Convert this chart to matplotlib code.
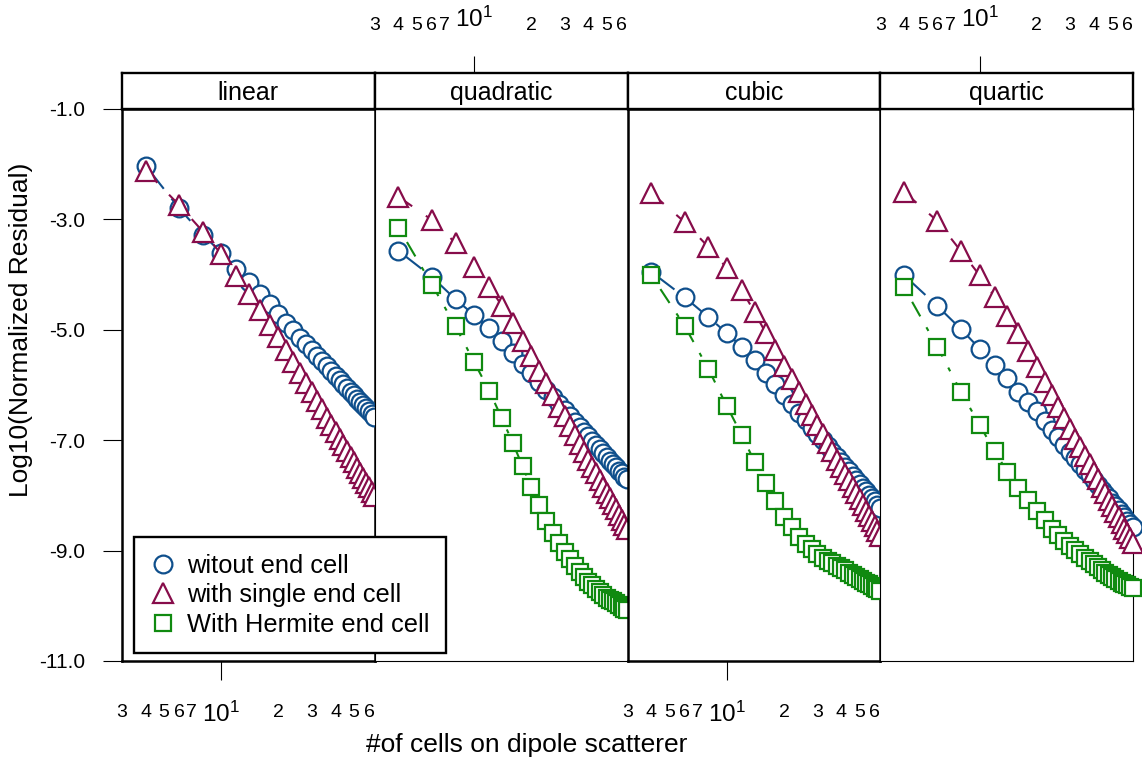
import matplotlib
matplotlib.use('Agg')
import matplotlib.pyplot as plt
from matplotlib.lines import Line2D

plt.rcParams['font.family'] = ['Liberation Sans', 'DejaVu Sans']

# ---------------- data ----------------
cells = [4, 6, 8, 10, 12, 14, 16, 18, 20, 22, 24, 26, 28, 30, 32, 34, 36, 38, 40,
         42, 44, 46, 48, 50, 52, 54, 56, 58, 60, 62, 64]

panels = ['linear', 'quadratic', 'cubic', 'quartic']
series_names = ['witout end cell', 'with single end cell', 'With Hermite end cell']

linear_without = [-2.03, -2.80, -3.28, -3.60, -3.89, -4.14, -4.36, -4.54, -4.71,
                  -4.87, -5.01, -5.14, -5.25, -5.37, -5.47, -5.57, -5.66, -5.75, -5.83,
                  -5.91, -5.98, -6.05, -6.12, -6.19, -6.25, -6.31, -6.37, -6.42, -6.48,
                  -6.53, -6.58]
linear_single = [-2.12, -2.74, -3.22, -3.63, -4.03, -4.36, -4.65, -4.91, -5.13,
                 -5.37, -5.58, -5.78, -5.96, -6.13, -6.29, -6.44, -6.59, -6.72, -6.85,
                 -6.97, -7.08, -7.19, -7.30, -7.40, -7.50, -7.59, -7.68, -7.77, -7.85,
                 -7.93, -8.01]

quadratic_without = [-3.57, -4.04, -4.45, -4.73, -4.97, -5.20, -5.42, -5.62, -5.79,
                     -5.95, -6.09, -6.22, -6.34, -6.46, -6.56, -6.67, -6.76, -6.85, -6.93,
                     -7.01, -7.09, -7.16, -7.23, -7.30, -7.37, -7.43, -7.49, -7.55, -7.60,
                     -7.66, -7.71]
quadratic_single = [-2.59, -3.01, -3.43, -3.87, -4.22, -4.56, -4.88, -5.20, -5.48,
                    -5.74, -5.97, -6.19, -6.39, -6.57, -6.75, -6.91, -7.06, -7.21, -7.35,
                    -7.48, -7.60, -7.72, -7.84, -7.95, -8.05, -8.16, -8.25, -8.35, -8.44,
                    -8.53, -8.61]
quadratic_hermite = [-3.15, -4.18, -4.94, -5.58, -6.10, -6.60, -7.05, -7.47, -7.85,
                     -8.18, -8.46, -8.68, -8.87, -9.03, -9.16, -9.27, -9.38, -9.48, -9.56,
                     -9.63, -9.69, -9.75, -9.80, -9.85, -9.89, -9.92, -9.95, -9.99, -10.02,
                     -10.05, -10.08]

cubic_without = [-3.95, -4.41, -4.77, -5.06, -5.31, -5.55, -5.79, -5.99, -6.18,
                 -6.35, -6.50, -6.64, -6.77, -6.89, -7.00, -7.11, -7.21, -7.31, -7.40,
                 -7.48, -7.56, -7.64, -7.72, -7.79, -7.86, -7.92, -7.99, -8.05, -8.11,
                 -8.17, -8.22]
cubic_single = [-2.52, -3.05, -3.50, -3.88, -4.28, -4.68, -5.05, -5.37, -5.65,
                -5.90, -6.13, -6.34, -6.54, -6.72, -6.89, -7.05, -7.20, -7.35, -7.48,
                -7.61, -7.73, -7.85, -7.96, -8.07, -8.18, -8.28, -8.37, -8.47, -8.56,
                -8.64, -8.73]
cubic_hermite = [-4.01, -4.93, -5.71, -6.38, -6.91, -7.39, -7.78, -8.11, -8.39,
                 -8.58, -8.75, -8.88, -8.98, -9.07, -9.13, -9.18, -9.23, -9.28, -9.32,
                 -9.36, -9.40, -9.44, -9.48, -9.51, -9.55, -9.58, -9.61, -9.64, -9.67,
                 -9.70, -9.74]

quartic_without = [-4.01, -4.57, -4.99, -5.34, -5.64, -5.88, -6.12, -6.30, -6.48,
                   -6.65, -6.81, -6.95, -7.09, -7.21, -7.33, -7.43, -7.54, -7.63, -7.73,
                   -7.81, -7.90, -7.98, -8.05, -8.13, -8.20, -8.27, -8.33, -8.39, -8.46,
                   -8.51, -8.57]
quartic_single = [-2.50, -3.03, -3.58, -4.01, -4.40, -4.75, -5.06, -5.38, -5.67,
                  -5.94, -6.18, -6.40, -6.60, -6.79, -6.97, -7.13, -7.29, -7.44, -7.58,
                  -7.71, -7.84, -7.96, -8.08, -8.19, -8.30, -8.40, -8.50, -8.60, -8.69,
                  -8.78, -8.87]
quartic_hermite = [-4.23, -5.31, -6.13, -6.72, -7.20, -7.57, -7.87, -8.08, -8.29,
                   -8.45, -8.60, -8.72, -8.82, -8.91, -8.99, -9.06, -9.13, -9.19, -9.25,
                   -9.30, -9.35, -9.40, -9.44, -9.48, -9.52, -9.55, -9.58, -9.61, -9.63,
                   -9.66, -9.68]

panel_data = {
    'linear': [linear_without, linear_single, None],
    'quadratic': [quadratic_without, quadratic_single, quadratic_hermite],
    'cubic': [cubic_without, cubic_single, cubic_hermite],
    'quartic': [quartic_without, quartic_single, quartic_hermite],
}

y_ticks = [-1, -3, -5, -7, -9, -11]
y_ticklabels = ['-1.0', '-3.0', '-5.0', '-7.0', '-9.0', '-11.0']
x_minor_ticks = [3, 4, 5, 6, 7, 20, 30, 40, 50, 60]
x_minor_labels = ['3', '4', '5', '6', '7', '2', '3', '4', '5', '6']

# ---------------- styles ----------------
colors = ['#0f4f8c', '#870c4a', '#108a10']
markers = ['o', '^', 's']
msizes = [12.8, 14.5, 12.2]
dashes = [(14, 6), (8, 8), (2, 6, 8, 6)]
LW = 1.5

W, H = 1142, 763
fig = plt.figure(figsize=(W / 100, H / 100), dpi=100)

left, right = 122, 1133
top, bottom, strip_top = 109, 661, 73
pw = (right - left) / 4.0

def fx(px):
    return px / W

def fy(py):
    return 1 - py / H

for i, name in enumerate(panels):
    x0 = left + i * pw
    ax = fig.add_axes([fx(x0), fy(bottom), pw / W, (bottom - top) / H])
    sax = fig.add_axes([fx(x0), fy(top), pw / W, (top - strip_top) / H])
    for a in (ax, sax):
        a.set_xscale('log')
        a.set_xlim(3.0, 64.3)
    ax.set_ylim(-11, -1)
    sax.set_ylim(0, 1)
    sax.set_yticks([])
    sax.text(0.5, 0.45, name, transform=sax.transAxes, ha='center', va='center',
             fontsize=18)
    for s in sax.spines.values():
        s.set_linewidth(1.7)
    spw = 1.8 if i in (0, 2) else 0.8
    for s in ax.spines.values():
        s.set_linewidth(spw)

    data = panel_data[name]
    for k in range(3):
        if data[k] is None:
            continue
        ax.plot(cells, data[k], color=colors[k], lw=LW, dashes=dashes[k],
                marker=markers[k], markersize=msizes[k], markerfacecolor='white',
                markeredgecolor=colors[k], markeredgewidth=1.6, clip_on=False,
                zorder=3 + k)

    # x axis ticks: bottom for panels 1,3 ; top (above strip) for 2,4
    target = ax if i in (0, 2) else sax
    other = sax if i in (0, 2) else ax
    other.set_xticks([])
    other.set_xticks([], minor=True)
    target.set_xticks([10])
    target.set_xticklabels([r'$\mathregular{10^1}$'], fontsize=17.5)
    target.set_xticks(x_minor_ticks, minor=True)
    target.set_xticklabels(x_minor_labels, minor=True, fontsize=14)
    if i in (0, 2):
        target.tick_params(axis='x', which='major', length=13.5, width=0.8, pad=16)
        target.tick_params(axis='x', which='minor', length=0, pad=31)
    else:
        target.tick_params(axis='x', which='major', top=True, bottom=False,
                           labeltop=True, labelbottom=False, length=12.5,
                           width=0.8, pad=17)
        target.tick_params(axis='x', which='minor', top=True, bottom=False,
                           labeltop=True, labelbottom=False, length=0, pad=28)

    if i == 0:
        ax.set_yticks(y_ticks)
        ax.set_yticklabels(y_ticklabels, fontsize=15)
        ax.tick_params(axis='y', length=13.5, width=0.8, pad=13)
    else:
        ax.set_yticks([])

fig.text(fx(21), fy(330), 'Log10(Normalized Residual)', rotation=90,
         ha='center', va='center', fontsize=19)
fig.text(fx(527), fy(745), '#of cells on dipole scatterer', ha='center',
         va='center', fontsize=19)

handles = [Line2D([], [], ls='none', marker=markers[k], markersize=msizes[k],
                  markerfacecolor='white', markeredgecolor=colors[k],
                  markeredgewidth=1.6) for k in range(3)]
leg = fig.legend(handles, series_names, loc='upper left',
                 bbox_to_anchor=(fx(134), fy(537)), fontsize=18.3, frameon=True,
                 fancybox=False, edgecolor='black', framealpha=1,
                 labelspacing=0.22, handletextpad=0.45, borderpad=0.65,
                 handlelength=1.0, borderaxespad=0)
leg.get_frame().set_linewidth(1.7)

fig.savefig('out.png', dpi=100)
